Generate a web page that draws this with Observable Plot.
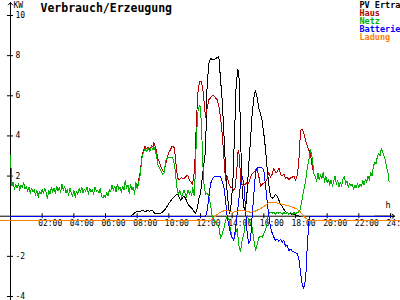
<!DOCTYPE html>
<html><head><meta charset="utf-8">
<script src="https://cdn.jsdelivr.net/npm/d3@7"></script>
<script src="https://cdn.jsdelivr.net/npm/@observablehq/plot@0.6"></script>
<style>html,body{margin:0;padding:0;background:#fff;overflow:hidden;width:400px;height:300px}</style>
</head><body><div id="chart"></div>
<script>
// ---- data ----
const title = "Verbrauch/Erzeugung";
const legendNames = ["PV Ertrag", "Haus", "Netz", "Batterie", "Ladung"];
const seriesColors = ["#000000", "#b40000", "#00b000", "#0000ff", "#ff8000"];
const xTicks = [2, 4, 6, 8, 10, 12, 14, 16, 18, 20, 22, 24];
const xLabels = ["02:00", "04:00", "06:00", "08:00", "10:00", "12:00", "14:00", "16:00", "18:00", "20:00", "22:00", "24:00"];
const yTicks = [10, 8, 6, 4, 2, -2, -4];
const yUnit = "KW";
const xUnit = "h";

// night household load = grid draw, 5-minute samples from 00:00
const stepH = 5 / 60;
const nightAStart = 0;
const nightA = [
  3.0, 1.5, 1.7, 1.35, 1.6, 1.4, 1.65, 1.3, 1.55, 1.45, 1.7, 1.35,
  1.5, 1.25, 1.45, 1.15, 1.4, 1.2, 1.35, 1.05, 1.3, 0.95, 1.25, 1.1,
  1.35, 1.15, 1.4, 1.2, 0.87, 1.3, 1.1, 1.45, 1.2, 1.4, 1.15, 1.5,
  1.25, 1.45, 1.2, 1.6, 1.3, 1.5, 1.15, 1.35, 1.05, 1.4, 1.2, 1.0,
  1.3, 0.95, 1.25, 1.1, 1.4, 1.2, 1.45, 1.15, 1.35, 1.25, 1.45, 1.1,
  1.4, 1.2, 1.35, 1.1, 1.45, 1.25, 1.3, 1.15, 1.4, 1.0, 0.9, 1.05,
  0.95, 1.2, 1.0, 1.35, 1.25, 1.55, 1.3, 1.5, 1.2, 1.6, 1.35, 1.45,
  1.2, 1.5, 1.3, 1.78, 1.4, 1.55, 1.15, 1.6, 1.3, 1.45, 1.1, 1.7,
  1.35
];
// evening, 5-minute samples from 19:15
const nightBStart = 19.25;
const nightB = [
  2.0, 1.75, 2.15, 1.8, 2.1, 1.85, 2.2, 1.7, 2.0,
  1.65, 1.85, 1.55, 1.8, 1.5, 1.75, 2.0, 1.6, 1.8, 1.45, 1.7, 1.5,
  1.85, 2.0, 1.6, 1.75, 1.45, 1.65, 1.5, 1.6, 1.35, 1.55, 1.4, 1.65,
  1.45, 1.6, 1.5, 1.8, 1.55, 1.85, 1.7, 2.0, 1.8, 2.2, 2.0, 2.45,
  2.7, 2.6, 2.95, 3.1, 3.0, 3.37, 3.2, 3.0, 2.8, 2.45, 2.2, 1.7
];

const hausDay = [
  [8.08,1.75],[8.2,2.2],[8.3,3.0],[8.4,3.3],[8.5,3.5],[8.6,3.35],[8.7,3.45],[8.8,3.3],[8.9,3.5],[9.0,3.45],
  [9.05,3.7],[9.12,3.5],[9.2,3.3],[9.3,2.9],[9.4,2.7],[9.5,2.45],[9.6,2.3],[9.7,2.2],[9.8,2.6],[9.9,2.9],
  [10.0,3.2],[10.1,3.3],[10.2,3.5],[10.3,3.45],[10.35,3.4],[10.45,2.6],[10.55,1.9],[10.65,1.8],[10.8,1.95],[10.9,1.85],
  [11.0,1.9],[11.1,2.0],[11.2,2.05],[11.3,1.8],[11.4,1.7],[11.5,1.6],[11.58,2.0],[11.65,2.8],[11.75,4.9],[11.85,6.3],
  [11.95,6.7],[12.05,6.7],[12.15,6.3],[12.25,5.5],[12.32,4.9],[12.42,5.4],[12.53,5.8],[12.63,5.9],[12.75,6.0],[12.84,6.0],
  [12.95,5.9],[13.05,5.8],[13.16,5.5],[13.27,4.9],[13.37,4.1],[13.48,2.9],[13.58,1.8],[13.69,2.0],[13.8,1.6],[13.9,1.45],
  [14.0,1.4],[14.1,1.3],[14.2,1.45],[14.3,2.4],[14.38,3.3],[14.45,3.0],[14.55,1.7],[14.63,1.6],[14.74,1.55],[14.85,1.6],
  [14.95,1.7],[15.05,1.65],[15.16,1.95],[15.26,2.1],[15.37,2.2],[15.48,2.3],[15.58,2.37],[15.69,1.95],[15.8,1.5],[15.9,1.6],
  [16.0,1.65],[16.1,1.7],[16.2,1.85],[16.3,2.2],[16.42,1.95],[16.53,2.1],[16.63,2.37],[16.74,2.2],[16.84,2.2],[16.95,2.4],
  [17.05,2.1],[17.16,2.0],[17.26,2.1],[17.37,1.9],[17.47,1.95],[17.58,1.8],[17.68,1.9],[17.8,1.95],[17.9,2.0],[18.0,1.8],
  [18.1,2.0],[18.2,2.6],[18.32,4.27],[18.4,4.35],[18.5,4.2],[18.63,3.8],[18.74,3.5],[18.84,3.3],[18.95,3.1],[19.06,2.45],
  [19.16,2.1]
];

const netzDay = [
  [8.08,1.6],[8.2,2.1],[8.3,2.9],[8.4,3.2],[8.5,3.37],[8.6,3.2],[8.7,3.4],[8.8,3.2],[8.9,3.45],[9.0,3.3],
  [9.05,3.5],[9.12,3.3],[9.2,3.1],[9.3,2.6],[9.4,2.4],[9.5,2.28],[9.6,2.1],[9.7,2.15],[9.8,2.78],[9.9,2.9],
  [10.0,2.94],[10.1,2.9],[10.2,2.95],[10.3,2.8],[10.4,2.3],[10.5,1.45],[10.6,1.1],[10.7,1.28],[10.8,0.95],[10.85,1.03],
  [10.95,1.3],[11.0,1.2],[11.1,0.95],[11.2,1.3],[11.3,1.1],[11.35,1.25],[11.45,1.05],[11.5,1.45],[11.6,1.03],[11.65,1.78],
  [11.75,4.1],[11.85,5.3],[11.92,5.5],[12.0,5.45],[12.08,4.1],[12.15,2.6],[12.22,1.6],[12.32,1.1],[12.42,1.15],[12.53,1.0],
  [12.63,0.6],[12.74,0.0],[12.84,-0.2],[12.95,-0.3],[13.05,-0.45],[13.16,-0.55],[13.27,-1.1],[13.37,-0.9],[13.48,-0.6],[13.58,-0.2],
  [13.69,0.03],[13.8,-0.2],[13.9,-0.7],[14.0,-1.1],[14.1,-1.1],[14.21,-0.87],[14.32,-0.6],[14.42,-1.46],[14.53,-1.75],[14.63,-1.2],
  [14.74,-0.87],[14.85,-0.2],[14.95,0.03],[15.05,-0.2],[15.16,-0.35],[15.26,-0.55],[15.37,-1.2],[15.48,-1.7],[15.58,-1.4],[15.69,-1.05],
  [15.8,-1.0],[15.9,-1.05],[16.0,-0.87],[16.1,-0.7],[16.2,-0.4],[16.3,0.13],[16.42,0.2],[16.53,0.15],[16.63,0.2],[16.74,0.1],
  [16.84,0.2],[16.95,0.15],[17.05,0.2],[17.16,0.1],[17.26,0.18],[17.37,0.12],[17.47,0.2],[17.58,0.1],[17.68,0.18],[17.8,0.1],
  [17.9,0.2],[18.0,0.12],[18.1,0.18],[18.2,0.2],[18.3,0.35],[18.4,0.75],[18.5,1.2],[18.63,1.7],[18.74,2.4],[18.84,2.8],
  [18.95,3.3],[19.06,2.9],[19.16,2.1]
];

const pvData = [
  [7.6,0],[7.75,0.1],[7.9,0.2],[8.05,0.25],[8.2,0.25],[8.35,0.3],[8.5,0.22],[8.63,0.28],[8.8,0.25],[8.95,0.3],
  [9.1,0.15],[9.3,0.12],[9.47,0.13],[9.6,0.2],[9.8,0.38],[10.0,0.63],[10.15,0.8],[10.3,0.95],[10.45,1.05],[10.55,1.1],
  [10.65,0.95],[10.74,0.8],[10.85,0.9],[10.95,1.0],[11.05,0.9],[11.16,0.7],[11.3,0.5],[11.47,0.38],[11.58,0.25],[11.68,0.15],
  [11.8,0.4],[11.9,0.9],[12.0,1.1],[12.11,1.9],[12.2,2.5],[12.32,3.3],[12.42,6.6],[12.53,7.6],[12.63,7.85],[12.8,7.8],
  [12.95,7.85],[13.05,7.9],[13.16,7.95],[13.27,6.76],[13.37,5.8],[13.48,4.1],[13.58,2.45],[13.69,1.1],[13.8,0.3],[13.84,0.13],
  [13.94,0.63],[14.05,1.8],[14.16,4.3],[14.25,6.5],[14.35,7.3],[14.42,7.2],[14.5,5.1],[14.55,3.4],[14.63,1.3],[14.74,0.45],
  [14.84,0.28],[14.95,1.3],[15.05,2.6],[15.16,3.8],[15.26,5.1],[15.37,5.9],[15.47,6.26],[15.58,5.9],[15.68,5.4],[15.79,5.1],
  [15.89,4.77],[16.0,4.1],[16.1,3.4],[16.2,2.45],[16.31,1.6],[16.42,1.0],[16.53,0.9],[16.63,0.95],[16.74,1.1],[16.84,1.0],
  [16.95,0.8],[17.05,0.6],[17.16,0.5],[17.3,0.3],[17.45,0.18],[17.6,0.13],[17.9,0.08],[18.1,0.03],[18.3,0]
];

const battData = [
  [0,0],[12.32,0],[12.42,0.28],[12.53,0.95],[12.63,1.6],[12.74,1.85],[12.84,1.95],[13.05,2.0],[13.16,2.0],[13.27,1.95],
  [13.37,1.75],[13.48,1.45],[13.58,0.8],[13.69,-0.05],[13.8,-0.5],[13.9,-0.87],[14.0,-1.05],[14.1,-1.2],[14.2,-0.7],[14.3,0],
  [14.42,0.8],[14.53,1.6],[14.63,2.0],[14.74,1.6],[14.85,0.3],[14.95,-0.87],[15.05,-1.37],[15.16,-1.2],[15.26,0],[15.37,1.1],
  [15.48,2.2],[15.58,2.4],[15.69,2.45],[15.8,2.45],[15.9,2.4],[16.0,2.3],[16.1,1.6],[16.2,0.8],[16.32,0],[16.42,-0.55],
  [16.53,-0.85],[16.63,-1.05],[16.74,-1.2],[16.84,-1.15],[16.95,-1.25],[17.05,-1.15],[17.16,-1.3],[17.26,-1.2],[17.37,-1.5],[17.47,-1.45],
  [17.58,-1.7],[17.7,-1.65],[17.8,-1.75],[17.95,-1.8],[18.1,-1.87],[18.21,-2.1],[18.32,-2.8],[18.42,-3.4],[18.5,-3.6],[18.58,-3.4],
  [18.65,-3.0],[18.74,-1.55],[18.84,-0.3],[18.9,0],[24,0]
];

const ladungData = [
  [-1,-0.23],[12.63,-0.23],[12.74,-0.12],[12.84,-0.05],[13.0,0.05],[13.16,0.15],[13.27,0.2],[13.45,0.26],[13.6,0.28],[13.8,0.26],
  [14.0,0.2],[14.1,0.2],[14.3,0.25],[14.5,0.28],[14.74,0.28],[14.95,0.23],[15.16,0.2],[15.37,0.22],[15.58,0.3],[15.8,0.38],
  [16.0,0.48],[16.15,0.58],[16.32,0.68],[16.5,0.7],[16.84,0.66],[17.1,0.6],[17.48,0.53],[17.8,0.45],[18.1,0.36],[18.32,0.2],
  [18.5,0.02],[18.63,-0.08],[18.8,-0.2],[18.95,-0.23],[25.5,-0.23]
];

// ---- assemble ----
const nightAPts = nightA.map((v, i) => [nightAStart + i * stepH, v]);
const nightBPts = nightB.map((v, i) => [nightBStart + i * stepH, v]);
const haus = [...nightAPts, ...hausDay, ...nightBPts];
const netz = [...nightAPts, ...netzDay, ...nightBPts];
const series = [pvData, haus, netz, battData, ladungData];

const font = "'DejaVu Sans Mono', monospace";
const lineMarks = series.map((s, k) => Plot.line(s, {
  x: d => d[0], y: d => d[1], stroke: seriesColors[k], strokeWidth: 1, shapeRendering: "crispEdges"
}));

const legendMarks = legendNames.map((name, i) => Plot.text([name], {
  frameAnchor: "top-right", dx: -31, dy: -8 + 8 * i, textAnchor: "start", lineAnchor: "bottom",
  fill: seriesColors[i], fontWeight: "bold", fontSize: 8.5, fontFamily: font
}));

const chart = Plot.plot({
  width: 400, height: 300,
  marginLeft: 10, marginRight: 10, marginTop: 15, marginBottom: 4,
  x: {domain: [0, 24], axis: null},
  y: {domain: [-4, 10], axis: null},
  style: {fontFamily: font, fontSize: "8px", background: "#fff", overflow: "hidden"},
  marks: [
    // axes
    Plot.ruleY([0], {stroke: "#000", insetLeft: -10, insetRight: -4}),
    Plot.ruleX([0], {stroke: "#000", insetTop: -13, insetBottom: -4}),
    Plot.arrow([{a: 0, b: 10, c: 0, d: 10.65}], {x1: "a", y1: "b", x2: "c", y2: "d", headLength: 5, headAngle: 80, stroke: "#000", strokeWidth: 1}),
    Plot.arrow([{a: 23, b: 0, c: 24.26, d: 0}], {x1: "a", y1: "b", x2: "c", y2: "d", headLength: 5, headAngle: 80, stroke: "#000", strokeWidth: 1}),
    Plot.ruleY(yTicks, {y: d => d, x1: d => 0, x2: d => 0, insetLeft: -3, insetRight: -3, stroke: "#000"}),
    Plot.ruleX(xTicks, {x: d => d, y1: d => 0, y2: d => 0, insetTop: -2.5, insetBottom: -2.5, stroke: "#000"}),
    Plot.text(yTicks, {y: d => d, text: d => String(d), frameAnchor: "left", textAnchor: "start", dx: 5, fontSize: 8, fill: "#000"}),
    Plot.text(xTicks, {x: d => d, y: d => 0, text: (d, i) => xLabels[i], textAnchor: "start", lineAnchor: "top", dx: -4, dy: 4, fontSize: 8, fill: "#000"}),
    Plot.text([yUnit], {frameAnchor: "top-left", dx: 3, dy: -8, textAnchor: "start", lineAnchor: "bottom", fontSize: 8, fill: "#000"}),
    Plot.text([{x: 24, y: 0, t: xUnit}], {x: "x", y: "y", text: "t", dx: -2.5, dy: -8, lineAnchor: "bottom", textAnchor: "middle", fontSize: 8.5, fill: "#000"}),
    // series
    ...lineMarks,
    // title & legend
    Plot.text([title], {frameAnchor: "top-left", dx: 30, dy: -4, textAnchor: "start", lineAnchor: "bottom", fontWeight: "bold", fontSize: 11.5, fill: "#000"}),
    ...legendMarks
  ]
});
document.getElementById("chart").appendChild(chart);
</script>
</body></html>
